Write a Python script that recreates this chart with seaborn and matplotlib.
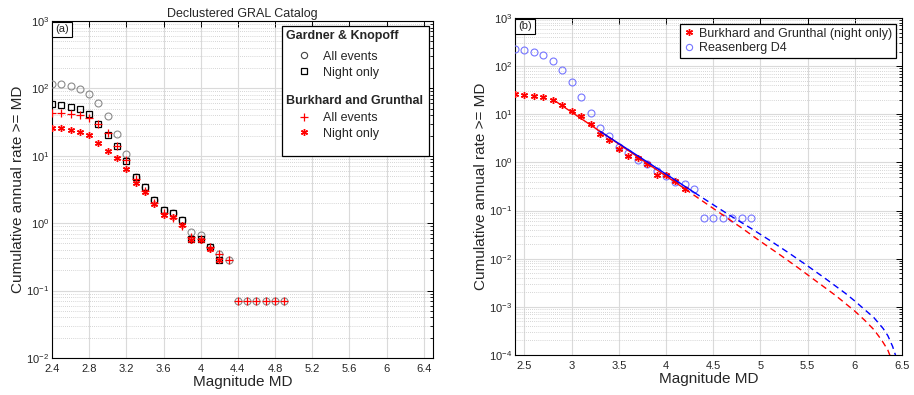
import numpy as np
import pandas as pd
import matplotlib
matplotlib.use("Agg")
import matplotlib.pyplot as plt
import seaborn as sns
from matplotlib.lines import Line2D
from matplotlib.patches import Rectangle
from matplotlib.ticker import FixedLocator, NullFormatter, LogFormatterSciNotation

# ---------------- data ----------------
mags = [2.4, 2.5, 2.6, 2.7, 2.8, 2.9, 3.0, 3.1, 3.2, 3.3, 3.4, 3.5, 3.6,
        3.7, 3.8, 3.9, 4.0, 4.1, 4.2, 4.3, 4.4, 4.5, 4.6, 4.7, 4.8, 4.9]
nan = np.nan
# Gardner & Knopoff, all events
gk_all = [117, 115, 108, 99, 82, 61, 39, 21, 10.6, 4.9, 3.4, 2.2, 1.56,
          1.41, 1.12, 0.73, 0.67, 0.44, 0.35, 0.28, 0.07, 0.07, 0.07, 0.07, 0.07, 0.07]
# Gardner & Knopoff, night only
gk_night = [58.6, 56.6, 53.6, 48.9, 41.2, 30, 20.2, 13.9, 8.4, 4.9, 3.4, 2.2, 1.56,
            1.41, 1.12, 0.58, 0.58, 0.44, 0.28, nan, nan, nan, nan, nan, nan, nan]
# Burkhard and Grunthal, all events
bg_all = [43.7, 43, 42, 40, 36.5, 29.3, 22, 14, 8.8, 4.5, 3.0, 2.0, 1.4,
          1.19, 0.91, 0.63, 0.58, 0.44, 0.35, 0.28, 0.07, 0.07, 0.07, 0.07, 0.07, 0.07]
# Burkhard and Grunthal, night only
bg_night = [26, 25.7, 24.5, 22.8, 20.2, 15.3, 11.8, 9.2, 6.4, 3.9, 2.95, 1.9, 1.34,
            1.22, 0.94, 0.56, 0.56, 0.42, 0.28, nan, nan, nan, nan, nan, nan, nan]
# Reasenberg D4
reas = [231, 220, 200, 167, 127, 82, 47, 22.7, 10.5, 5.2, 3.6, 2.1, 1.55,
        1.12, 0.94, 0.67, 0.53, 0.40, 0.35, 0.28, 0.07, 0.07, 0.07, 0.07, 0.07, 0.07]

# Gutenberg-Richter fits
red_fit_m = [2.8, 4.2]
red_fit_r = [20.4, 0.282]
red_ext_m = [4.2, 4.4, 4.6, 4.8, 5.0, 5.2, 5.4, 5.6, 5.8, 6.0, 6.1, 6.2, 6.25, 6.3, 6.35, 6.38]
red_ext_r = [0.282, 0.151, 0.0813, 0.0437, 0.0229, 0.0123, 0.00646, 0.00331, 0.0017,
             0.000813, 0.000537, 0.000339, 0.000251, 0.000182, 0.000126, 0.0000891]
blue_fit_m = [3.3, 4.3]
blue_fit_r = [4.43, 0.237]
blue_ext_m = [4.3, 4.5, 4.7, 4.9, 5.1, 5.3, 5.5, 5.7, 5.9, 6.0, 6.1, 6.2, 6.3, 6.35, 6.4, 6.43, 6.45]
blue_ext_r = [0.237, 0.132, 0.0741, 0.0427, 0.024, 0.0132, 0.00708, 0.00372, 0.00191,
              0.00132, 0.000891, 0.000603, 0.000355, 0.000251, 0.000151, 0.0001, 0.0000708]

left_xticks = [2.4, 2.8, 3.2, 3.6, 4.0, 4.4, 4.8, 5.2, 5.6, 6.0, 6.4]
left_xlabels = ["2.4", "2.8", "3.2", "3.6", "4", "4.4", "4.8", "5.2", "5.6", "6", "6.4"]
right_xticks = [2.5, 3.0, 3.5, 4.0, 4.5, 5.0, 5.5, 6.0, 6.5]
right_xlabels = ["2.5", "3", "3.5", "4", "4.5", "5", "5.5", "6", "6.5"]
left_decades = [-2, -1, 0, 1, 2, 3]
right_decades = [-4, -3, -2, -1, 0, 1, 2, 3]

# ---------------- style ----------------
sns.set_theme(style="white")
plt.rcParams["font.family"] = ["Liberation Sans", "DejaVu Sans"]
plt.rcParams["mathtext.default"] = "regular"
plt.rcParams["axes.linewidth"] = 0.8

fig = plt.figure(figsize=(9.14, 3.95), dpi=100)
ax1 = fig.add_axes([0.0569, 0.0937, 0.4168, 0.8531])
ax2 = fig.add_axes([0.5635, 0.1013, 0.4234, 0.8531])

RED = "#ff0000"
GRAY = "#8a8a8a"
LBLUE = "#7676ff"
STAR = (6, 2, 0)

df = pd.DataFrame({"M": mags, "gk_all": gk_all, "gk_night": gk_night,
                   "bg_all": bg_all, "bg_night": bg_night, "reas": reas})

def pts(ax, col, marker, color, ms, mew, mfc="none", z=3):
    d = df[["M", col]].dropna()
    sns.lineplot(data=d, x="M", y=col, ax=ax, marker=marker, linestyle="none",
                 color=color, mec=color, mfc=mfc, ms=ms, mew=mew,
                 legend=False, zorder=z, estimator=None, sort=False)

# ---------------- left panel ----------------
pts(ax1, "gk_all", "o", GRAY, 5.0, 0.8, z=3)
pts(ax1, "gk_night", "s", "black", 4.3, 0.9, z=3.1)
pts(ax1, "bg_all", "+", RED, 5.5, 0.9, z=3.2)
pts(ax1, "bg_night", STAR, RED, 5.0, 1.0, z=3.3)

# ---------------- right panel ----------------
pts(ax2, "reas", "o", LBLUE, 5.0, 0.8, z=3)
pts(ax2, "bg_night", STAR, RED, 5.0, 1.0, z=3.3)
sns.lineplot(x=red_fit_m, y=red_fit_r, ax=ax2, color=RED, lw=1.0, legend=False, zorder=3.5)
sns.lineplot(x=blue_fit_m, y=blue_fit_r, ax=ax2, color="#0000ff", lw=1.0, legend=False, zorder=3.6)
sns.lineplot(x=red_ext_m, y=red_ext_r, ax=ax2, color=RED, lw=1.0, legend=False,
             zorder=3.5, sort=False, estimator=None, dashes=False, linestyle=(0, (4.5, 3)))
sns.lineplot(x=blue_ext_m, y=blue_ext_r, ax=ax2, color="#0000ff", lw=1.0, legend=False,
             zorder=3.6, sort=False, estimator=None, dashes=False, linestyle=(0, (4.5, 3)))

def style_axes(ax, decades, xticks, xlabels):
    ax.set_yscale("log")
    ax.set_xlim(2.4, 6.5)
    ax.set_ylim(10.0 ** decades[0], 10.0 ** decades[-1])
    ax.set_xticks(xticks)
    ax.set_xticklabels(xlabels)
    majors = [10.0 ** d for d in decades]
    minors = [k * 10.0 ** d for d in decades[:-1] for k in range(2, 10)]
    ax.yaxis.set_major_locator(FixedLocator(majors))
    ax.yaxis.set_major_formatter(LogFormatterSciNotation())
    ax.yaxis.set_minor_locator(FixedLocator(minors))
    ax.yaxis.set_minor_formatter(NullFormatter())
    ax.tick_params(which="both", direction="in", top=True, right=True, color="black",
                   labelsize=8)
    ax.tick_params(axis="y", pad=2)
    ax.tick_params(axis="x", pad=4.5)
    ax.tick_params(which="major", length=4, width=0.7)
    ax.tick_params(which="minor", length=2, width=0.6)
    ax.set_axisbelow(True)
    ax.grid(which="major", axis="both", color="#dadada", lw=0.8, ls="-")
    ax.yaxis.grid(which="minor", color="#c8c8c8", lw=0.6, ls=(0, (1, 1.5)))
    for s in ax.spines.values():
        s.set_color("black")
        s.set_linewidth(0.8)
    ax.set_xlabel("Magnitude MD", fontsize=11, labelpad=0.5)
    ax.set_ylabel("Cumulative annual rate >= MD", fontsize=11, labelpad=0.8)

style_axes(ax1, left_decades, left_xticks, left_xlabels)
style_axes(ax2, right_decades, right_xticks, right_xlabels)

ax1.set_title("Declustered GRAL Catalog", fontsize=9, pad=3)

for ax, lab in ((ax1, "(a)"), (ax2, "(b)")):
    ax.text(0.008, 0.99, lab, transform=ax.transAxes, fontsize=8, va="top", ha="left",
            zorder=6, bbox=dict(boxstyle="square,pad=0.25", fc="white", ec="black", lw=0.8))

# ---------------- left legend ----------------
h_c = Line2D([], [], marker="o", ls="none", mfc="none", mec="#444444", ms=4.5, mew=0.8)
h_s = Line2D([], [], marker="s", ls="none", mfc="none", mec="black", ms=4.3, mew=0.9)
h_p = Line2D([], [], marker="+", ls="none", mec=RED, ms=5.5, mew=0.9)
h_a = Line2D([], [], marker=STAR, ls="none", mec=RED, ms=5.0, mew=1.0)

ax1.add_patch(Rectangle((0.6037, 0.599), 0.3858, 0.386, transform=ax1.transAxes,
                        fc="white", ec="black", lw=0.9, zorder=5))
common = dict(loc="upper left", frameon=False, fontsize=9, alignment="left",
              title_fontproperties={"weight": "bold", "size": 9},
              handlelength=3.0, handletextpad=0.0, borderpad=0.3, labelspacing=0.3,
              borderaxespad=0.0)
leg1 = ax1.legend([h_c, h_s], ["All events", "Night only"], title="Gardner & Knopoff",
                  bbox_to_anchor=(0.6037, 0.985), **common)
leg1._legend_box.sep = 6.5
leg1.set_zorder(6)
ax1.add_artist(leg1)
leg2 = ax1.legend([h_p, h_a], ["All events", "Night only"], title="Burkhard and Grunthal",
                  bbox_to_anchor=(0.6037, 0.793), **common)
leg2._legend_box.sep = 4.0
leg2.set_zorder(6)

# ---------------- right legend ----------------
r_a = Line2D([], [], marker=STAR, ls="none", mec=RED, ms=5.0, mew=1.0)
r_c = Line2D([], [], marker="o", ls="none", mfc="none", mec=LBLUE, ms=4.5, mew=0.8)
leg3 = ax2.legend([r_a, r_c], ["Burkhard and Grunthal (night only)", "Reasenberg D4"],
                  loc="upper right", bbox_to_anchor=(0.9845, 0.982), borderaxespad=0.0,
                  fontsize=9, frameon=True, fancybox=False, edgecolor="black",
                  framealpha=1, handlelength=0.8, handletextpad=0.4, borderpad=0.3,
                  labelspacing=0.2)
leg3.get_frame().set_linewidth(0.9)
leg3.set_zorder(6)

fig.savefig("out.png", dpi=100)
